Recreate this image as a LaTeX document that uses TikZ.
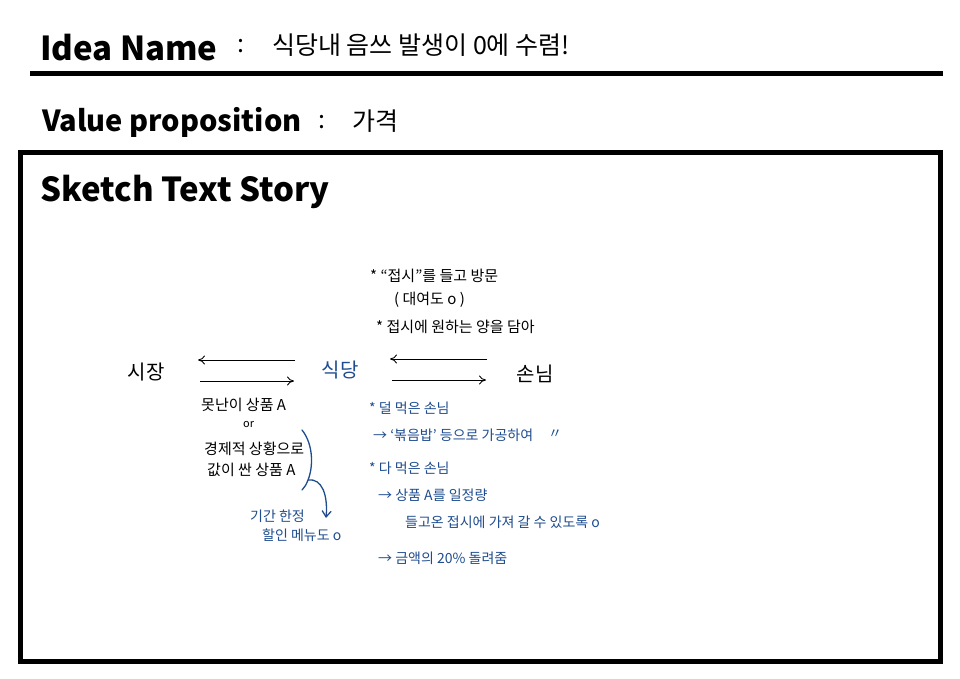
\documentclass[tikz,border=0pt]{standalone}
\usepackage{fontspec}
\setmainfont{Noto Sans CJK KR}
\usetikzlibrary{arrows.meta}
\definecolor{inkblue}{HTML}{1E4C8E}
\tikzset{
  heading/.style={anchor=west, inner sep=0pt, font=\fontsize{33}{38}\selectfont\bfseries},
  title/.style={anchor=west, inner sep=0pt, font=\fontsize{25}{28}\selectfont},
  txt/.style={anchor=west, inner sep=0pt, font=\fontsize{15}{17}\selectfont},
  btxt/.style={anchor=west, inner sep=0pt, font=\fontsize{14}{16}\selectfont, text=inkblue},
  big/.style={anchor=center, inner sep=0pt, font=\fontsize{20}{23}\selectfont},
  flow/.style={-{To[length=7pt,width=9pt]}, line width=0.9pt},
  frame/.style={line width=5pt}
}
\begin{document}
\begin{tikzpicture}[x=1pt,y=-1pt]
\useasboundingbox (0,0) rectangle (960,679);
% header
\node[heading] (idea) at (40,48) {Idea Name};
\node[title] (colon1) at (237,46) {:};
\node[title] (ideatext) at (272,45) {식당내 음쓰 발생이 0에 수렴!};
\coordinate (hl) at (30,74);
\coordinate (hr) at (943,74);
\draw[frame] (hl) -- (hr);
\node[heading, font=\fontsize{29}{34}\selectfont\bfseries] (vp) at (42,122) {Value proposition};
\node[title] (colon2) at (318,122) {:};
\node[title] (vptext) at (352,121) {가격};
% frame
\draw[frame] (20,153) rectangle (940,661);
\node[heading] (sts) at (40,192) {Sketch Text Story};
% top notes
\node[txt] (n1) at (370,276) {* “접시”를 들고 방문};
\node[txt] (n2) at (394,300) {( 대여도 o )};
\node[txt] (n3) at (376,327) {* 접시에 원하는 양을 담아};
% actors
\node[big] (market) at (146,372) {시장};
\node[big, text=inkblue] (rest) at (340,370) {식당};
\node[big] (cust) at (535,374) {손님};
% arrows
\coordinate (a1s) at (295,360); \coordinate (a1e) at (198,360);
\coordinate (a2s) at (200,381); \coordinate (a2e) at (294,381);
\coordinate (a3s) at (487,359); \coordinate (a3e) at (390,359);
\coordinate (a4s) at (392,380); \coordinate (a4e) at (486,380);
\draw[flow] (a1s) -- (a1e);
\draw[flow] (a2s) -- (a2e);
\draw[flow] (a3s) -- (a3e);
\draw[flow] (a4s) -- (a4e);
% left notes
\node[txt] (l1) at (201,405) {못난이 상품 A};
\node[txt, font=\fontsize{11}{13}\selectfont] (l2) at (243,425) {or};
\node[txt] (l3) at (204,449) {경제적 상황으로};
\node[txt] (l4) at (207,470) {값이 싼 상품 A};
% bracket and arrow
\coordinate (b0) at (302,430);
\coordinate (bj) at (308,480);
\coordinate (b1) at (302,490);
\coordinate (bt) at (326,518);
\draw[inkblue, line width=1.3pt, line cap=round] (b0) .. controls (314,445) and (313,468) .. (bj) .. controls (306,485) .. (b1);
\draw[inkblue, line width=1.3pt, -{Straight Barb[length=6pt,width=9pt]}] (bj) .. controls (322,478) and (328,495) .. (bt);
\node[btxt] (d1) at (250,516) {기간 한정};
\node[btxt] (d2) at (262,535) {할인 메뉴도 o};
% right notes
\node[btxt] (r1) at (369,408) {* 덜 먹은 손님};
\node[btxt] (r2) at (373,435) {→ ‘볶음밥’ 등으로 가공하여};
\node[btxt] (r2q) at (548,434) {〃};
\node[btxt] (r3) at (369,468) {* 다 먹은 손님};
\node[btxt] (r4) at (378,495) {→ 상품 A를 일정량};
\node[btxt] (r5) at (405,522) {들고온 접시에 가져 갈 수 있도록 o};
\node[btxt] (r6) at (378,558) {→ 금액의 20\% 돌려줌};
\end{tikzpicture}
\end{document}
